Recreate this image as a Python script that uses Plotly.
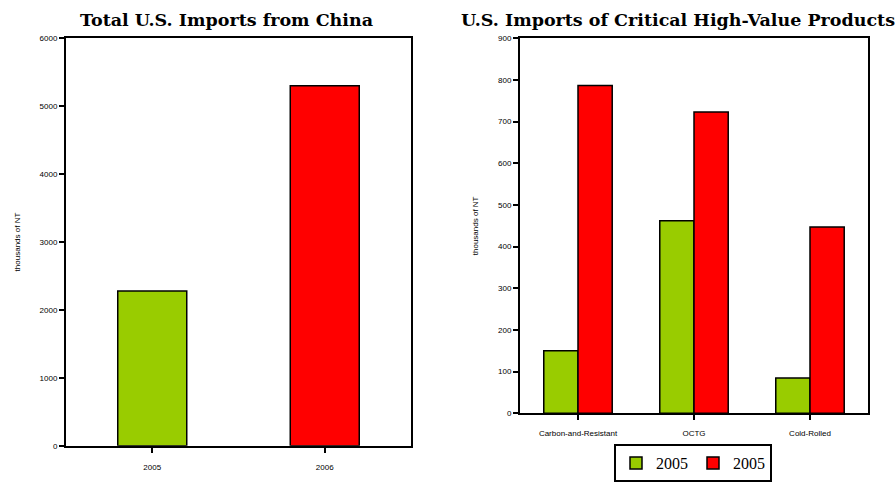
import plotly.graph_objects as go

W, H = 895, 488

# Left chart data
total_years = ["2005", "2006"]
total_values = [2280, 5300]
total_colors = ["#99CC00", "#FF0000"]
total_ticks = [0, 1000, 2000, 3000, 4000, 5000, 6000]

# Right chart data
products = ["Carbon-and-Resistant", "OCTG", "Cold-Rolled"]
series_names = ["2005", "2005"]
series_2005 = [150, 462, 85]
series_2006 = [787, 723, 447]
series_colors = ["#99CC00", "#FF0000"]
prod_ticks = [0, 100, 200, 300, 400, 500, 600, 700, 800, 900]

serif = "Liberation Serif, Times New Roman, serif"
title_font = "DejaVu Serif, serif"
sans = "Liberation Sans, Arial, sans-serif"

fig = go.Figure()

fig.add_trace(go.Bar(
    x=total_years, y=total_values, width=0.4,
    marker=dict(color=total_colors, line=dict(color="black", width=1.5)),
    xaxis="x", yaxis="y", showlegend=False,
))

for name, vals, col in zip(series_names, [series_2005, series_2006], series_colors):
    fig.add_trace(go.Bar(
        x=products, y=vals, name=name,
        marker=dict(color=col, line=dict(color="black", width=1.5)),
        xaxis="x2", yaxis="y2",
    ))

axis_common = dict(showline=True, linecolor="black", linewidth=2, mirror=True,
                   ticks="outside", ticklen=5, tickcolor="black", tickwidth=1.5,
                   showgrid=False, zeroline=False,
                   tickfont=dict(family=sans, size=8, color="black"))

fig.update_layout(
    width=W, height=H,
    margin=dict(l=0, r=0, t=0, b=0),
    paper_bgcolor="white", plot_bgcolor="white",
    barmode="group", bargap=0.41, bargroupgap=0,
    xaxis=dict(domain=[66 / W, 411 / W], ticklabelstandoff=8, **axis_common, anchor="y"),
    yaxis=dict(domain=[38 / H, 453 / H], range=[0, 6000], tickvals=total_ticks,
               title=dict(text="thousands of NT", font=dict(family=sans, size=8, color="black"), standoff=18),
               **axis_common, anchor="x"),
    xaxis2=dict(domain=[520 / W, 868 / W], ticklabelstandoff=6, **axis_common, anchor="y2"),
    yaxis2=dict(domain=[71 / H, 453 / H], range=[0, 900], tickvals=prod_ticks,
                title=dict(text="thousands of NT", font=dict(family=sans, size=8, color="black"), standoff=18),
                **axis_common, anchor="x2"),
    legend=dict(orientation="h", x=693 / W, xanchor="center", y=1 / H, yanchor="bottom",
                bordercolor="black", borderwidth=2, bgcolor="white",
                font=dict(family=serif, size=16, color="black"),
                itemwidth=30, tracegroupgap=0),
    annotations=[
        dict(text="<b>Total U.S. Imports from China</b>", x=226 / W, y=1 - 16 / H,
             xref="paper", yref="paper", showarrow=False, xanchor="center",
             font=dict(family=title_font, size=17.5, color="black"), yanchor="middle"),
        dict(text="<b>U.S. Imports of Critical High-Value Products</b>", x=678 / W, y=1 - 16 / H,
             xref="paper", yref="paper", showarrow=False, xanchor="center",
             font=dict(family=title_font, size=17.5, color="black"), yanchor="middle"),
    ],
)

fig.write_html("out.html")
